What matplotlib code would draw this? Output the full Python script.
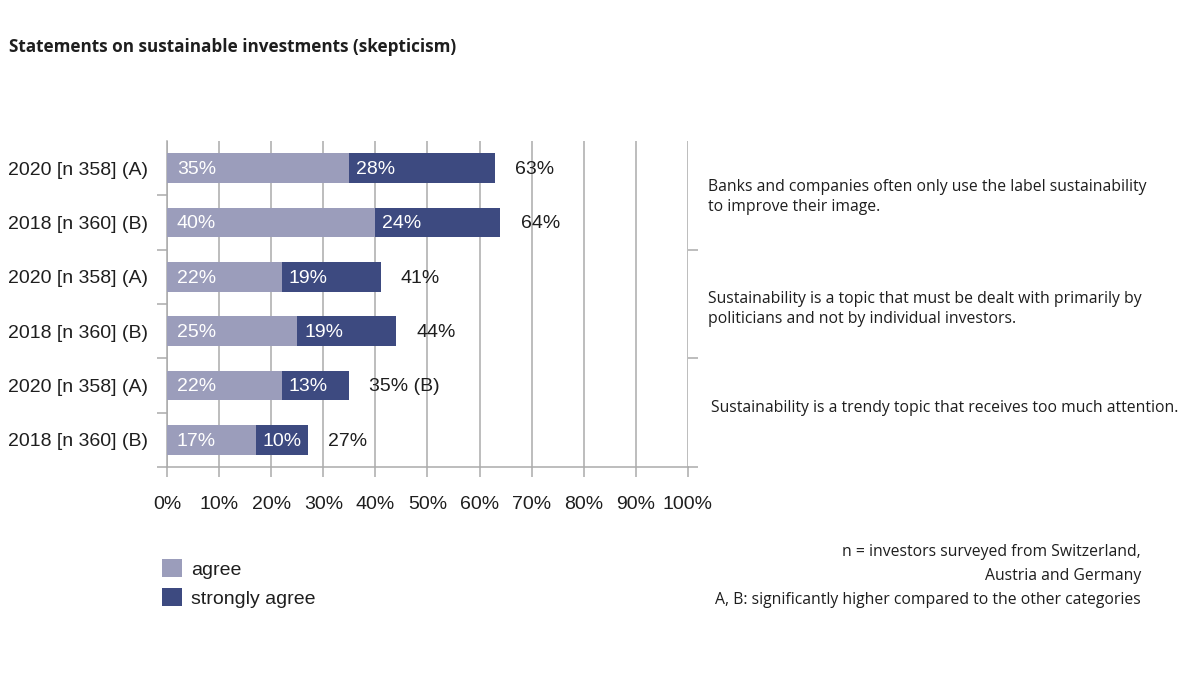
import matplotlib
matplotlib.use("Agg")
import matplotlib.pyplot as plt
import numpy as np

# ---- data ----
categories = ["2020 [n 358] (A)", "2018 [n 360] (B)",
              "2020 [n 358] (A)", "2018 [n 360] (B)",
              "2020 [n 358] (A)", "2018 [n 360] (B)"]
agree = [35, 40, 22, 25, 22, 17]
strongly_agree = [28, 24, 19, 19, 13, 10]
total_suffix = ["", "", "", "", " (B)", ""]
statements = [
    "Banks and companies often only use the label sustainability\nto improve their image.",
    "Sustainability is a topic that must be dealt with primarily by\npoliticians and not by individual investors.",
    "Sustainability is a trendy topic that receives too much attention.",
]
xticks = list(range(0, 101, 10))
xtick_labels = [f"{v}%" for v in xticks]
series_names = ["agree", "strongly agree"]
title = "Statements on sustainable investments (skepticism)"
footnote = ("n = investors surveyed from Switzerland,\nAustria and Germany\n"
            "A, B: significantly higher compared to the other categories")

# ---- style ----
C_AGREE = "#9b9dbb"
C_STRONG = "#3d4a80"
GRID = "#ababab"
TXT = "#1e1e1e"
CHART_FONT = "Liberation Sans"
NOTE_FONT = "Open Sans"

W, H = 1200, 675
fig = plt.figure(figsize=(12, 6.75), dpi=100)
ax_l, ax_r, ax_t, ax_b = 167, 688, 141, 467
ax = fig.add_axes([ax_l / W, 1 - ax_b / H, (ax_r - ax_l) / W, (ax_b - ax_t) / H])

y = np.arange(len(categories))
bar_h = 0.55
b1 = ax.barh(y, agree, height=bar_h, color=C_AGREE, zorder=3, label=series_names[0])
b2 = ax.barh(y, strongly_agree, left=agree, height=bar_h, color=C_STRONG, zorder=3,
             label=series_names[1])

ax.set_xlim(0, 100)
ax.set_ylim(len(categories) - 0.5, -0.5)

# value labels
for i in range(len(categories)):
    ax.annotate(f"{agree[i]}%", (0, y[i]), xytext=(7, -1), textcoords="offset points",
                ha="left", va="center", color="white", fontsize=14, family=CHART_FONT, zorder=4)
    ax.annotate(f"{strongly_agree[i]}%", (agree[i], y[i]), xytext=(5, -1),
                textcoords="offset points", ha="left", va="center", color="white",
                fontsize=14, family=CHART_FONT, zorder=4)
    tot = agree[i] + strongly_agree[i]
    ax.annotate(f"{tot}%{total_suffix[i]}", (tot, y[i]), xytext=(14.5, -1),
                textcoords="offset points", ha="left", va="center", color=TXT,
                fontsize=14, family=CHART_FONT, zorder=4)

# axes styling
ax.set_xticks(xticks)
ax.set_xticklabels(xtick_labels, fontsize=14, family=CHART_FONT, color=TXT)
ax.set_yticks(y)
ax.set_yticklabels(categories, fontsize=14, family=CHART_FONT, color=TXT)
ax.set_yticks(np.arange(0.5, len(categories), 1.0), minor=True)
ax.tick_params(axis="y", which="major", length=0, pad=13.5)
ax.tick_params(axis="y", which="minor", length=7.2, width=1.1, color=GRID, direction="out")
ax.tick_params(axis="x", which="major", length=7.2, width=1.1, color=GRID, pad=14)
ax.grid(axis="x", color=GRID, linewidth=1.1, zorder=0)
for s in ["top", "right"]:
    ax.spines[s].set_visible(False)
for s in ["left", "bottom"]:
    ax.spines[s].set_color(GRID)
    ax.spines[s].set_linewidth(1.1)

# right-side group ticks
ax2 = ax.twinx()
ax2.set_ylim(len(categories) - 0.5, -0.5)
ax2.set_yticks([1.5, 3.5, 5.5])
ax2.set_yticklabels([])
ax2.tick_params(axis="y", length=7.2, width=1.1, color=GRID, direction="out")
for s in ["top", "left", "bottom", "right"]:
    ax2.spines[s].set_visible(False)

# statements
stmt_y = [197, 309, 408]
stmt_x = [708, 708, 711]
for s, sx, sy in zip(statements, stmt_x, stmt_y):
    fig.text(sx / W, 1 - sy / H, s, ha="left", va="center", fontsize=11.3,
             family=NOTE_FONT, color=TXT, linespacing=1.27)

# title
fig.text(9 / W, 1 - 47 / H, title, ha="left", va="center", fontsize=12.3,
         family=NOTE_FONT, fontweight="bold", color=TXT)

# footnote
fig.text(1141 / W, 1 - 576 / H, footnote, ha="right", va="center", multialignment="right",
         fontsize=11.3, family=NOTE_FONT, color=TXT, linespacing=1.64)

# legend
leg = fig.legend(handles=[b1, b2], labels=series_names, loc="upper left",
                 bbox_to_anchor=(158 / W, 1 - 555 / H), frameon=False,
                 prop={"family": CHART_FONT, "size": 14}, handlelength=1.05,
                 handleheight=1.05, handletextpad=0.45, labelspacing=0.5,
                 borderpad=0.2, borderaxespad=0)
for t in leg.get_texts():
    t.set_color(TXT)

fig.savefig("out.png", dpi=100)
